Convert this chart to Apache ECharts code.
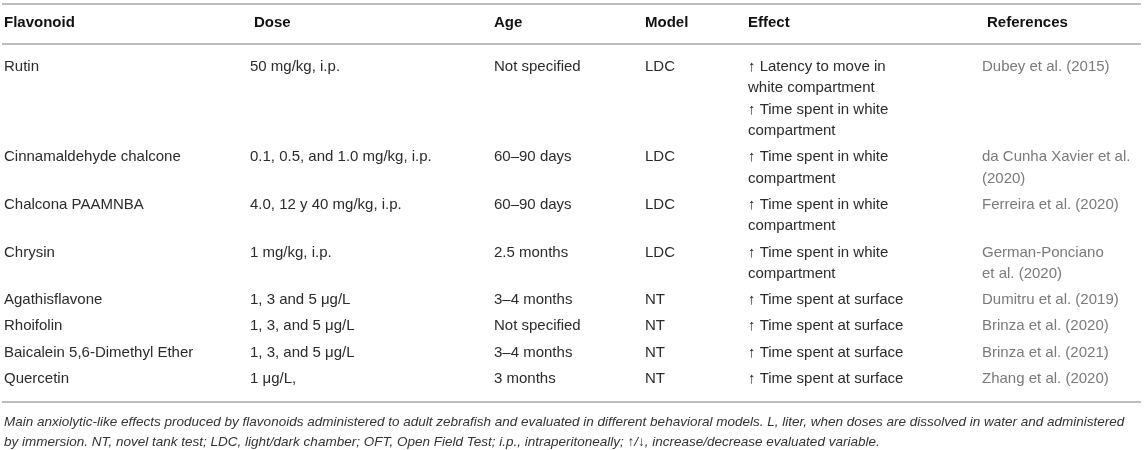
<!DOCTYPE html>
<html>
<head>
<meta charset="utf-8">
<script src="https://cdn.jsdelivr.net/npm/echarts@6/dist/echarts.min.js"></script>
<style>
html, body { margin: 0; padding: 0; background: #fff; }
#main { width: 1145px; height: 450px; }
</style>
</head>
<body>
<div id="main"></div>
<script>
// table content
var headers = ['Flavonoid', 'Dose', 'Age', 'Model', 'Effect', 'References'];
var flavonoids = ['Rutin', 'Cinnamaldehyde chalcone', 'Chalcona PAAMNBA', 'Chrysin',
	'Agathisflavone', 'Rhoifolin', 'Baicalein 5,6-Dimethyl Ether', 'Quercetin'];
var doses = ['50 mg/kg, i.p.', '0.1, 0.5, and 1.0 mg/kg, i.p.', '4.0, 12 y 40 mg/kg, i.p.', '1 mg/kg, i.p.',
	'1, 3 and 5 \u03bcg/L', '1, 3, and 5 \u03bcg/L', '1, 3, and 5 \u03bcg/L', '1 \u03bcg/L,'];
var ages = ['Not specified', '60\u201390 days', '60\u201390 days', '2.5 months',
	'3\u20134 months', 'Not specified', '3\u20134 months', '3 months'];
var models = ['LDC', 'LDC', 'LDC', 'LDC', 'NT', 'NT', 'NT', 'NT'];
var effects = [
	'\u2191 Latency to move in\nwhite compartment\n\u2191 Time spent in white\ncompartment',
	'\u2191 Time spent in white\ncompartment',
	'\u2191 Time spent in white\ncompartment',
	'\u2191 Time spent in white\ncompartment',
	'\u2191 Time spent at surface',
	'\u2191 Time spent at surface',
	'\u2191 Time spent at surface',
	'\u2191 Time spent at surface'
];
var references = ['Dubey et al. (2015)', 'da Cunha Xavier et al.\n(2020)', 'Ferreira et al. (2020)',
	'German-Ponciano\net al. (2020)', 'Dumitru et al. (2019)', 'Brinza et al. (2020)',
	'Brinza et al. (2021)', 'Zhang et al. (2020)'];
var caption = [
	'Main anxiolytic-like effects produced by flavonoids administered to adult zebrafish and evaluated in different behavioral models. L, liter, when doses are dissolved in water and administered',
	'by immersion. NT, novel tank test; LDC, light/dark chamber; OFT, Open Field Test; i.p., intraperitoneally; \u2191/\u2193, increase/decrease evaluated variable.'
];

// layout
var columns = [flavonoids, doses, ages, models, effects, references];
var colX = [4, 250, 494, 645, 748, 982];
var headX = [4, 254, 494, 645, 748, 987];
var colColor = ['#2b2b2b', '#2b2b2b', '#2b2b2b', '#2b2b2b', '#2b2b2b', '#7a7a7a'];
var lineH = 21.3, rowGap = 26.3, firstRow = 67;
var ruleY = [4, 44, 402];
var font = '"Liberation Sans", Arial, sans-serif';

var rowY = [];
var y = firstRow;
for (var i = 0; i < flavonoids.length; i++) {
	rowY.push(y);
	var n = 1;
	columns.forEach(function (col) {
		n = Math.max(n, col[i].split('\n').length);
	});
	y += (n - 1) * lineH + rowGap;
}

function cellText(x, yc, txt, opt) {
	return {
		type: 'text',
		style: {
			x: x, y: yc - lineH / 2,
			text: txt,
			fill: opt.fill,
			font: opt.font,
			lineHeight: lineH,
			verticalAlign: 'top',
			align: 'left'
		}
	};
}

var myChart = echarts.init(document.getElementById('main'));
var option = {
	animation: false,
	grid: { left: 0, right: 0, top: 0, bottom: 0 },
	xAxis: { type: 'value', min: 0, max: 1145, show: false },
	yAxis: { type: 'value', min: 0, max: 450, inverse: true, show: false },
	series: [
		{
			// body rows
			type: 'custom',
			silent: true,
			data: flavonoids.map(function (d, i) { return [i]; }),
			renderItem: function (params, api) {
				var r = api.value(0);
				var kids = columns.map(function (col, c) {
					var p = api.coord([colX[c], rowY[r]]);
					return cellText(p[0], p[1], col[r], { fill: colColor[c], font: '15px ' + font });
				});
				return { type: 'group', children: kids };
			}
		},
		{
			// header, rules and footnote
			type: 'custom',
			silent: true,
			data: [[0]],
			renderItem: function (params, api) {
				var kids = [];
				ruleY.forEach(function (ry) {
					var a = api.coord([2, ry]), b = api.coord([1141, ry]);
					kids.push({
						type: 'line',
						shape: { x1: a[0], y1: a[1], x2: b[0], y2: b[1] },
						style: { stroke: '#bdbdbd', lineWidth: 2 }
					});
				});
				headers.forEach(function (h, c) {
					var p = api.coord([headX[c], 23]);
					kids.push(cellText(p[0], p[1], h, { fill: '#111', font: 'bold 15px ' + font }));
				});
				caption.forEach(function (line, k) {
					var p = api.coord([4, 422 + k * 20]);
					kids.push(cellText(p[0], p[1], line, { fill: '#333', font: 'italic 13.5px ' + font }));
				});
				return { type: 'group', children: kids };
			}
		}
	]
};
myChart.setOption(option);
</script>
</body>
</html>
